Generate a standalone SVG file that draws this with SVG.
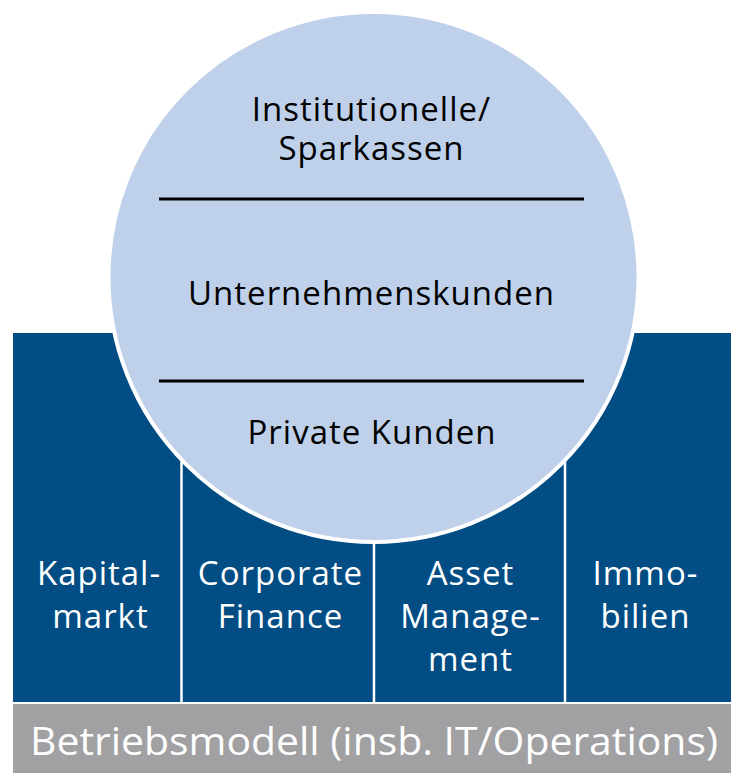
<svg xmlns="http://www.w3.org/2000/svg" width="731" height="773" viewBox="0 0 731 773">
<style>
.dark{fill:#024D84}
.grey{fill:#A1A1A4}
.div{stroke:#FFFFFF;stroke-width:2.5}
.sep{stroke:#000000;stroke-width:3}
.ct{font-family:"Open Sans","DejaVu Sans",sans-serif;font-size:33px;letter-spacing:1px;fill:#000000;text-anchor:middle}
.bt{font-family:"Open Sans","DejaVu Sans",sans-serif;font-size:33px;letter-spacing:1px;fill:#FFFFFF;text-anchor:middle}
.gt{font-family:"Open Sans","DejaVu Sans",sans-serif;font-size:38px;fill:#FFFFFF}
</style>
<rect width="731" height="773" fill="#FFFFFF"/>
<g id="pillars">
<rect class="dark" x="13" y="333" width="718" height="369"/>
</g>
<g id="connectors">
<line class="div" x1="181.5" y1="420" x2="181.5" y2="702"/>
<line class="div" x1="374" y1="420" x2="374" y2="702"/>
<line class="div" x1="565" y1="420" x2="565" y2="702"/>
</g>
<g id="circle">
<circle cx="373.5" cy="277" r="265" fill="#BFD0EA" stroke="#FFFFFF" stroke-width="4"/>
<line class="sep" x1="159" y1="199" x2="584" y2="199"/>
<line class="sep" x1="159" y1="381" x2="584" y2="381"/>
</g>
<g id="institutionelle">
<text class="ct" x="371.5" y="121">Institutionelle/</text>
<text class="ct" x="371.5" y="160">Sparkassen</text>
</g>
<g id="unternehmenskunden">
<text class="ct" x="371.5" y="305">Unternehmenskunden</text>
</g>
<g id="private">
<text class="ct" x="372" y="444">Private Kunden</text>
</g>
<g id="kapitalmarkt">
<text class="bt" x="99" y="585">Kapital-</text>
<text class="bt" x="100.5" y="628">markt</text>
</g>
<g id="corporate">
<text class="bt" x="280.5" y="585">Corporate</text>
<text class="bt" x="280.5" y="628">Finance</text>
</g>
<g id="asset">
<text class="bt" x="470.5" y="585">Asset</text>
<text class="bt" x="470.5" y="628">Manage-</text>
<text class="bt" x="470.5" y="671">ment</text>
</g>
<g id="immobilien">
<text class="bt" x="645.5" y="585">Immo-</text>
<text class="bt" x="645.5" y="628">bilien</text>
</g>
<g id="betriebsmodell">
<rect class="grey" x="13" y="704" width="718" height="69"/>
<text class="gt" x="30" y="755" textLength="688" lengthAdjust="spacingAndGlyphs">Betriebsmodell (insb. IT/Operations)</text>
</g>
</svg>
